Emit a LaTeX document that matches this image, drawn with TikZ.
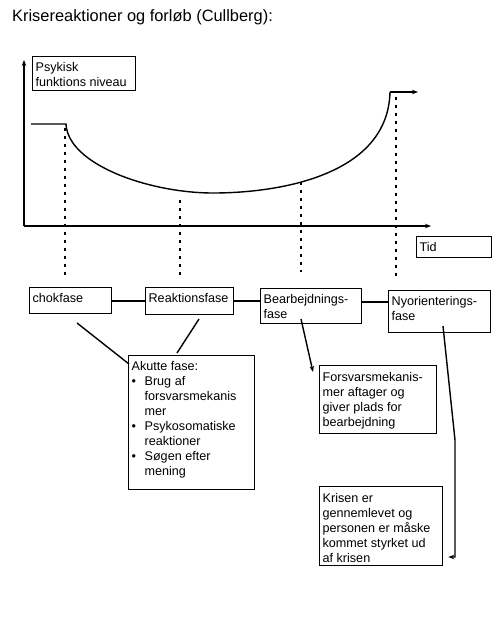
\documentclass[tikz,border=0pt]{standalone}
\usepackage{fontspec}
\setmainfont{Liberation Sans}
\usetikzlibrary{arrows.meta,calc}
\newcommand{\bxt}[3]{\parbox[t][#2][t]{#1}{\raggedright\rule{0pt}{12.5pt}#3}}
\newcommand{\bul}{\makebox[13pt][l]{\textbullet}}
\newcommand{\ind}{\hspace*{13pt}}
\begin{document}
\begin{tikzpicture}[x=1pt,y=-1pt,
  every node/.style={font=\fontsize{12.6}{15}\selectfont},
  bx/.style={draw, line width=1.3pt, anchor=north west, inner xsep=3pt, inner ysep=2pt},
  ln/.style={line width=1.4pt},
  dots/.style={line width=1.6pt, dash pattern=on 3pt off 5pt},
  arr/.style={ln, -{Stealth[length=6pt,width=4.5pt]}}]
\useasboundingbox[fill=white] (0,0) rectangle (503,640);

\node[font=\fontsize{16.4}{19}\selectfont, anchor=base west, inner sep=0pt] (title) at (12,21) {Krisereaktioner og forløb (Cullberg):};

% axes
\coordinate (o) at (24,226);
\coordinate (ytop) at (24,60);
\coordinate (xend) at (431,226);
\draw[arr] (o) -- (ytop);
\draw[arr] (o) -- (xend);

% curve
\coordinate (c0) at (31,124);
\coordinate (c1) at (66,124);
\coordinate (cm) at (213,193);
\coordinate (c3) at (390,92);
\coordinate (c4) at (418,92);
\draw[ln] (c0) -- (c1) .. controls (68,165) and (150,193) .. (cm) .. controls (280,193) and (388,175) .. (c3);
\draw[arr] (c3) -- (c4);

% dotted verticals
\coordinate (d1a) at (65,128);  \coordinate (d1b) at (65,276);
\coordinate (d2a) at (180,200); \coordinate (d2b) at (180,278);
\coordinate (d3a) at (301,182); \coordinate (d3b) at (301,272);
\coordinate (d4a) at (396,97);  \coordinate (d4b) at (396,277);
\draw[dots] (d1a) -- (d1b);
\draw[dots] (d2a) -- (d2b);
\draw[dots] (d3a) -- (d3b);
\draw[dots] (d4a) -- (d4b);

% boxes
\node[bx] (psy) at (32,56) {\bxt{97pt}{30pt}{Psykisk\\funktions niveau}};
\node[bx] (tid) at (416,236) {\bxt{69pt}{17pt}{Tid}};
\node[bx] (chok) at (29,287) {\bxt{76pt}{22pt}{chokfase}};
\node[bx] (reak) at (145,287) {\bxt{82pt}{23pt}{Reaktionsfase}};
\node[bx] (bear) at (260,288) {\bxt{95pt}{31pt}{Bearbejdnings-\\fase}};
\node[bx] (nyor) at (388,290) {\bxt{96pt}{38pt}{Nyorienterings-\\fase}};
\node[bx] (akut) at (128,355) {\bxt{120pt}{130pt}{Akutte fase:\\\bul Brug af\\\ind forsvarsmekanis\\\ind mer\\\bul Psykosomatiske\\\ind reaktioner\\\bul Søgen efter\\\ind mening}};
\node[bx] (fors) at (319,365) {\bxt{111pt}{64pt}{\rule{0pt}{14pt}Forsvarsmekanis-\\mer aftager og\\giver plads for\\bearbejdning}};
\node[bx] (kris) at (319,486) {\bxt{117pt}{75pt}{\rule{0pt}{14pt}Krisen er\\gennemlevet og\\personen er måske\\kommet styrket ud\\af krisen}};

% phase connectors
\coordinate (ly) at (0,301);
\coordinate (ly2) at (0,302);
\draw[ln] (chok.east |- ly) -- (reak.west |- ly);
\draw[ln] (reak.east |- ly) -- (bear.west |- ly);
\draw[ln] (bear.east |- ly2) -- (nyor.west |- ly2);

% lines to Akutte fase
\coordinate (a1) at (77,323);
\coordinate (a2) at (199,319);
\draw[ln] (a1) -- ($(akut.north west)+(1,9)$);
\draw[ln] (a2) -- ($(akut.north west)+(49,-2)$);

% arrow to Forsvars
\coordinate (b1) at (301,319);
\draw[arr] (b1) -- ($(fors.north west)+(-6,7)$);

% arrow to Krisen
\coordinate (n1) at (443,326);
\coordinate (n2) at (455,440);
\coordinate (n3) at (455,557);
\draw[arr] (n1) -- (n2) -- (n3) -- ($(kris.north east)+(5,71)$);
\end{tikzpicture}
\end{document}
